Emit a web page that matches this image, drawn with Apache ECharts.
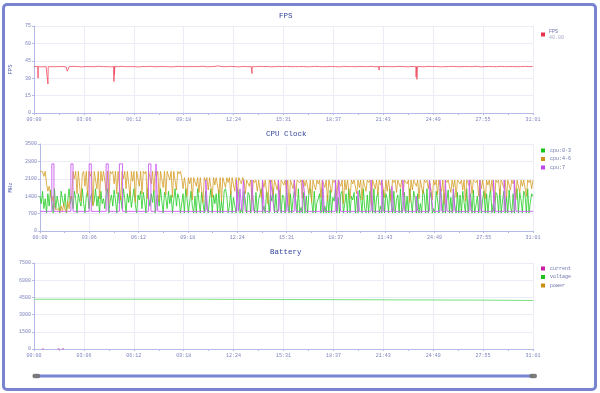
<!DOCTYPE html>
<html><head><meta charset="utf-8">
<script src="https://cdn.jsdelivr.net/npm/echarts@6/dist/echarts.min.js"></script>
<style>
html,body{margin:0;padding:0;background:#fff;}
#chart{position:absolute;left:0;top:0;width:600px;height:393px;}
#frame{position:absolute;left:2px;top:3px;width:595px;height:388px;box-sizing:border-box;border:3px solid #7884d0;border-radius:5px;pointer-events:none;}
</style></head>
<body>
<div id="chart"></div><div id="frame"></div>
<script>
// ---- data ----
const timeMax = 1861; // seconds (31:01)
const timeTickInterval = 186.1;
const fpsStep = 15;
const fpsBase = [
40,40.2,39.8,40,40.3,39.9,40,40.1,39.7,40,
40.2,40,39.8,40.1,40,39.9,40.3,40,40,39.8,
40.1,40,40.2,39.9,40,40,39.7,40.1,40,40.2,
39.9,40,40.1,40,39.8,40,40.2,40,39.9,40.1,
40,40,40.3,39.8,40,40.1,40,39.9,40,40.2,
40,39.8,40.1,40,40,39.9,40.2,40,40.1,39.8,
40,40.1,40,40.2,39.9,40,40,40.1,39.8,40,
40.2,40,39.9,40,40.1,40,39.8,40.2,40,40,
39.9,40.1,40,40,40.2,39.8,40,40.1,40,39.9,
40,40.2,40,39.8,40.1,40,40,39.9,40.2,40,
40.1,39.8,40,40,40.2,40,39.9,40.1,40,40,
40.3,39.8,40,40.1,40,39.9,40.2,40,40,40.1,
39.9,40,40.2,40,40.1];
const fpsDips = [[14,40],[15,30],[16,40],[51,40],[52,25],[53,40],[122,40],[124,36],[128,37],[131,40],
[297,40],[298,27],[300,33],[301,40],[685,40.6],[687,39.4],[812,40],[813,34],[814,40],
[1286,40],[1287,37],[1288,40],[1424,40],[1425,31],[1427,40],[1428,29],[1430,40]];
const fpsAvgLabel = '40.00';

const cpu03 = [
1400,1100,1600,900,1300,725,1500,1000,1650,1200,
725,1700,900,1400,1100,725,1600,1300,1000,1500,
725,1200,1700,1100,1400,900,1600,1300,725,1500,
1200,1000,1700,1100,725,1400,1600,900,1300,1500,
1050,1200,1700,1000,1400,725,1600,1100,1300,900,
1500,1700,725,1200,1450,1000,1650,1250,725,1550,
1100,1400,900,1700,1300,725,1500,1150,1600,950,
1350,1700,1050,725,1450,1250,1600,900,1550,1200,
725,1700,1350,1000,1500,1150,1650,725,1300,1450,
1000,1700,1200,725,1550,1350,900,1600,1100,1450,
725,1250,1700,1000,1500,1300,725,
725,1500,725,1700,1300,725,725,1600,1000,725,
1400,725,1700,1200,725,1550,1500,725,1600,900,
725,1300,1700,725,1450,1100,1500,725,1650,725,
1200,725,1600,1700,1400,725,1000,1600,725,1350,
1300,725,1700,1500,725,900,725,1600,1200,725,
1550,1450,725,1700,1100,725,1550,725,1250,1300,
1700,725,1000,725,1600,1400,725,1500,1200,1700,
725,1500,725,900,1650,725,1450,1350,725,1700,
1100,725,1500,725,1300,1600,1250,725,1700,725,
950,725,1550,725,1400,725,1600,1700,1200,725,
1600,725,1150,1300,1500,725,1700,725,1000,725,
1450,725,1650,725,1350,1200,1700,725,1350,725,
1500,1600,725,1100,1500,725,1700,725,1400,1250,
1550,725,1400,725,1650,1300,725,1700,900,725,
1450,725,1600,1200,725,1700,725,1350,1550,725,
1000,725,1650,725,1500,1300,725,1700,1100,725,
1600,725,1250,1450,725,1700,725,950,1550,725,
1400,725,1700,1200,725,1600,1350,725,1500,725,
1100,725,1650,1450,725,1700,725,1300,1550,725,
900,725,1600,1250,725,1700,1400,725,1500,725,
1200,1650,725,1350,725,1700,1000,725,1550,725,
1450,725,1600,1150,725,1700,725,1300,1500,725,
1650,725,1050,1400,725,1700,725,1250,1600,725,
1500,725,1350,1700,725,1100,725,1550,1450,725,
1700,725,1200,1600,725,1400,725,1650,1000,725,
1500,725,1300,1700,725,1550,
1250,725,1600,1450,725,1700,725,1150,1500,1400];
const cpu46 = [
2400,2400,2380,2200,2400,
1900,1600,1800,1500,1200,1400,1000,850,780,900,760,1000,800,1100,850,760,1200,900,1400,1300,
2400,2100,2400,1500,2400,2400,1200,2300,2400,1800,
2400,1400,2400,2200,2400,1000,2400,2400,1700,2400,
1300,2400,2000,2400,2400,1600,2400,1100,2400,2300,
2400,1900,2400,1500,2400,2400,1250,2400,2100,2400,
1700,2400,2400,1400,2400,2000,2400,1150,2400,2400,
1800,2400,1500,2400,2300,2400,1300,2400,2400,1900,
2400,1600,2400,2200,2400,1200,2400,2400,1750,2400,
1450,2400,2400,2050,2400,1350,2400,2400,1650,2400,
2300,2400,
2150,1700,2150,2150,1400,2150,1900,2150,1250,2150,
2150,1800,2150,1550,2150,2150,1150,2150,2000,2150,
1650,2150,2150,1350,2150,1850,2150,2150,1500,2150,
1200,2150,2150,1750,2150,1950,2150,1450,2150,2150,
1600,2150,1300,2150,2150,1900,2150,
2050,1500,2050,2050,1800,2050,1200,2050,1950,2050,
1600,2050,2050,1350,2050,1750,2050,2050,1100,2050,
1900,2050,1450,2050,2050,1650,2050,1250,2050,2050,
1850,2050,1550,2050,1000,2050,2050,1700,2050,1400,
2050,2050,1950,2050,1300,2050,1800,2050,2050,1500,
2050,1150,2050,2050,1650,2050,1900,2050,1350,2050,
2050,1750,2050,1200,2050,2050,1550,2050,1950,2050,
1400,2050,2050,1800,2050,1100,2050,1650,2050,2050,
1300,2050,1900,2050,2050,1500,2050,1750,2050,1250,
2050,2050,1600,2050,1950,2050,1050,2050,2050,1700,
2050,1450,2050,1850,2050,2050,1350,2050,1600,2050,
2050,1200,2050,1950,2050,1550,2050,2050,1750,2050,
1400,2050,2050,1900,2050,1150,2050,1650,2050,2050,
1800,2050,1300,2050,2050,1500,2050,1950,2050,1700,
2050,2050,1250,2050,1850,2050,1450,2050,2050,1600,
2050,1100,2050,1950,2050,2050,1550,2050,1750,2050,
1350,2050,2050,1900,2050,1650,2050,1200,2050,2050,
1800,2050,1500,2050,2050,1950,2050,1400,2050,1700,
2050,2050,1300,2050,1850,2050,1600,2050,2050,1150,
2050,1950,2050,1450,2050,2050,1750,2050,1350,2050,
2050,1650,2050,1900,2050,1250,2050,2050,1550,2050,
1800,2050,2050,1400,2050,1950,2050,1700,2050];
// cpu:7 as [time(s), MHz] change points (step line)
const cpu7 = [
[0,790],[45,2700],[53,790],[117,2700],[125,790],[186,2700],[194,790],[250,2700],[258,790],
[300,2700],[312,790],[410,2700],[419,790],[438,2700],[445,790],
[626,2050],[633,790],[742,2050],[749,790],[755,1700],[762,790],[768,2050],[775,790],
[800,2050],[807,790],[840,2050],[847,790],[870,2050],[877,1500],[884,790],[900,2050],[907,790],
[930,2050],[937,790],[960,2050],[967,790],[990,2050],[997,1700],[1004,790],[1067,2050],[1074,790],
[1115,2050],[1122,790],[1128,2050],[1135,790],[1200,1600],[1206,790],[1250,2050],[1257,790],
[1290,2050],[1297,790],[1328,1800],[1335,790],[1370,2050],[1377,790],[1420,1400],[1426,790],
[1470,2050],[1477,1500],[1484,790],[1510,2050],[1517,790],[1530,2050],[1537,790],[1560,1700],[1567,790],
[1620,2050],[1627,790],[1660,2050],[1667,790],[1712,2050],[1719,790],[1752,2050],[1759,790],
[1790,2050],[1797,790],[1861,790]];

const battCurrent = [[30,0],[33,90],[36,0],[null,null],[88,0],[92,70],[96,0],[null,null],[104,0],[108,60],[112,0]];
const battVoltage = [[0,4340],[620,4340],[621,4260],[1697,4260],[1698,4230],[1861,4230]];
const battPower = [];

// ---- build ----
function toSeries(vals){
  const step = timeMax/(vals.length-1);
  return vals.map((v,i)=>[i*step, v]);
}
const fpsData = fpsBase.map((v,i)=>[i*fpsStep, v]).concat(fpsDips).sort((a,b)=>a[0]-b[0]);

function mmss(v){
  const s = Math.round(v);
  const m = Math.floor(s/60), r = s%60;
  return String(m).padStart(2,'0')+':'+String(r).padStart(2,'0');
}
const FONT = 'Liberation Mono';
const axisCol = '#b4b9e6';
const splitCol = '#ececf6';
const labelCol = '#7d84bd';
const gridTops = [26,144,263];
const gridHeights = [87,87,86];

function xAx(i){
  return {type:'value', gridIndex:i, min:0, max:timeMax, interval:timeTickInterval,
    axisLine:{lineStyle:{color:axisCol,width:1}},
    axisTick:{show:true,length:2,lineStyle:{color:axisCol}},
    minorTick:{show:true,splitNumber:2,length:2,lineStyle:{color:axisCol}},
    splitLine:{show:true,lineStyle:{color:splitCol}},
    axisLabel:{formatter:mmss,fontSize:5,fontFamily:FONT,color:labelCol,margin:4,showMaxLabel:true,showMinLabel:true}};
}
function yAx(i,max,intv,name){
  return {type:'value', gridIndex:i, min:0, max:max, interval:intv, name:name,
    nameLocation:'middle', nameGap:20, nameTextStyle:{fontSize:5.5,fontFamily:FONT,color:'#5563b0'},
    axisLine:{show:true,lineStyle:{color:axisCol}},
    axisTick:{show:true,length:2,lineStyle:{color:axisCol}},
    splitLine:{show:true,lineStyle:{color:splitCol}},
    axisLabel:{formatter:v=>String(v),fontSize:5,fontFamily:FONT,color:labelCol,margin:3}};
}
const titleStyle = {fontSize:7.5,fontFamily:FONT,fontWeight:'normal',color:'#33449a'};
const legendText = {fontSize:5,fontFamily:FONT,color:'#6a72a8'};

const option = {
  animation:false,
  backgroundColor:'#fff',
  title:[
    {text:'FPS',left:279,top:12,padding:0,textStyle:titleStyle},
    {text:'CPU Clock',left:266,top:130,padding:0,textStyle:titleStyle},
    {text:'Battery',left:270,top:248,padding:0,textStyle:titleStyle}
  ],
  legend:[
    {data:['FPS'],left:541,top:29,orient:'vertical',icon:'rect',itemWidth:4,itemHeight:4,itemGap:3,padding:0,
     formatter:n=>'{n|'+n+'}\n{v|'+fpsAvgLabel+'}',
     textStyle:{...legendText,padding:[0,0,0,-1],rich:{n:{fontSize:5,fontFamily:FONT,color:'#6a72a8',lineHeight:6},v:{fontSize:5,fontFamily:FONT,color:'#a8acc8',lineHeight:6}}}},
    {data:['cpu:0-3','cpu:4-6','cpu:7'],left:541,top:148,orient:'vertical',icon:'rect',itemWidth:4,itemHeight:4,itemGap:3.5,padding:0,textStyle:legendText},
    {data:['current','voltage','power'],left:541,top:266,orient:'vertical',icon:'rect',itemWidth:4,itemHeight:4,itemGap:3.5,padding:0,textStyle:legendText}
  ],
  grid:[0,1,2].map(i=>({left:34,right:67,top:gridTops[i],height:gridHeights[i]})),
  xAxis:[xAx(0),xAx(1),xAx(2)],
  yAxis:[yAx(0,75,15,'FPS'),yAx(1,3500,700,'MHz'),yAx(2,7500,1500,'')],
  dataZoom:[{type:'slider',xAxisIndex:[0,1,2],left:34,right:67,top:374.5,height:3,
    showDataShadow:false,showDetail:false,brushSelect:false,moveHandleSize:0,
    backgroundColor:'rgba(0,0,0,0)',borderColor:'rgba(0,0,0,0)',fillerColor:'#7884d0',
    handleIcon:'path://M2,0 L9,0 Q11,0 11,2 L11,4 Q11,6 9,6 L2,6 Q0,6 0,4 L0,2 Q0,0 2,0 Z',
    handleSize:'220%',handleStyle:{color:'#7a7a7a',borderColor:'#555',borderWidth:0.5},
    emphasis:{handleStyle:{color:'#7a7a7a',borderColor:'#555'}}}],
  series:[
    {name:'FPS',type:'line',xAxisIndex:0,yAxisIndex:0,data:fpsData,showSymbol:false,
     itemStyle:{color:'#e8334a'},lineStyle:{width:0.8,color:'#f04a60'}},
    {name:'cpu:0-3',type:'line',xAxisIndex:1,yAxisIndex:1,data:toSeries(cpu03),showSymbol:false,
     itemStyle:{color:'#18c418'},lineStyle:{width:0.8,color:'#22cc22'}},
    {name:'cpu:4-6',type:'line',xAxisIndex:1,yAxisIndex:1,data:toSeries(cpu46),showSymbol:false,
     itemStyle:{color:'#cc9418'},lineStyle:{width:0.8,color:'#d49d24'}},
    {name:'cpu:7',type:'line',xAxisIndex:1,yAxisIndex:1,data:cpu7,showSymbol:false,step:'end',
     itemStyle:{color:'#c044e8'},lineStyle:{width:0.9,color:'#cc5cf0'}},
    {name:'current',type:'line',xAxisIndex:2,yAxisIndex:2,data:battCurrent,showSymbol:false,connectNulls:false,
     itemStyle:{color:'#c81ca8'},lineStyle:{width:1,color:'#d040b8'}},
    {name:'voltage',type:'line',xAxisIndex:2,yAxisIndex:2,data:battVoltage,showSymbol:false,
     itemStyle:{color:'#1fbf1f'},lineStyle:{width:1,color:'#7fe07f'}},
    {name:'power',type:'line',xAxisIndex:2,yAxisIndex:2,data:battPower,showSymbol:false,
     itemStyle:{color:'#cc8e10'},lineStyle:{width:1}}
  ]
};
const chart = echarts.init(document.getElementById('chart'),null,{renderer:'canvas'});
chart.setOption(option);
</script>
</body></html>
